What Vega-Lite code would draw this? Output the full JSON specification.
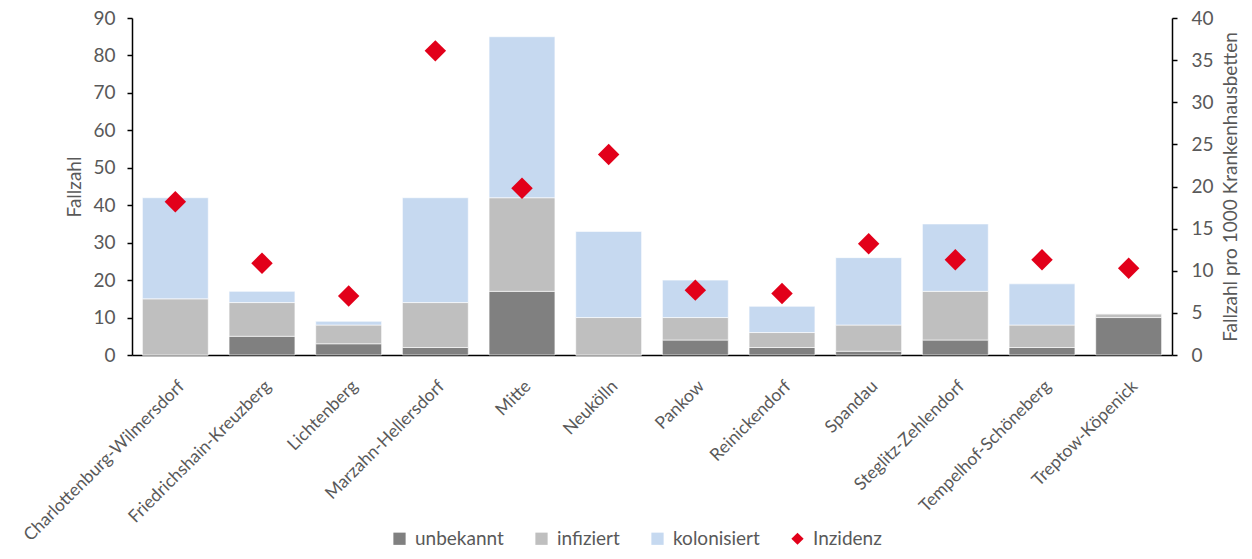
{
  "$schema": "https://vega.github.io/schema/vega-lite/v6.json",
  "width": 1040,
  "height": 337,
  "autosize": {"type": "none"},
  "padding": {"left": 132, "top": 18, "right": 80, "bottom": 204},
  "background": "white",
  "datasets": {
    "faelle": [
      {"Bezirk": "Charlottenburg-Wilmersdorf", "Serie": "unbekannt", "Rang": 1, "Fallzahl": 0},
      {"Bezirk": "Charlottenburg-Wilmersdorf", "Serie": "infiziert", "Rang": 2, "Fallzahl": 15},
      {"Bezirk": "Charlottenburg-Wilmersdorf", "Serie": "kolonisiert", "Rang": 3, "Fallzahl": 27},
      {"Bezirk": "Friedrichshain-Kreuzberg", "Serie": "unbekannt", "Rang": 1, "Fallzahl": 5},
      {"Bezirk": "Friedrichshain-Kreuzberg", "Serie": "infiziert", "Rang": 2, "Fallzahl": 9},
      {"Bezirk": "Friedrichshain-Kreuzberg", "Serie": "kolonisiert", "Rang": 3, "Fallzahl": 3},
      {"Bezirk": "Lichtenberg", "Serie": "unbekannt", "Rang": 1, "Fallzahl": 3},
      {"Bezirk": "Lichtenberg", "Serie": "infiziert", "Rang": 2, "Fallzahl": 5},
      {"Bezirk": "Lichtenberg", "Serie": "kolonisiert", "Rang": 3, "Fallzahl": 1},
      {"Bezirk": "Marzahn-Hellersdorf", "Serie": "unbekannt", "Rang": 1, "Fallzahl": 2},
      {"Bezirk": "Marzahn-Hellersdorf", "Serie": "infiziert", "Rang": 2, "Fallzahl": 12},
      {"Bezirk": "Marzahn-Hellersdorf", "Serie": "kolonisiert", "Rang": 3, "Fallzahl": 28},
      {"Bezirk": "Mitte", "Serie": "unbekannt", "Rang": 1, "Fallzahl": 17},
      {"Bezirk": "Mitte", "Serie": "infiziert", "Rang": 2, "Fallzahl": 25},
      {"Bezirk": "Mitte", "Serie": "kolonisiert", "Rang": 3, "Fallzahl": 43},
      {"Bezirk": "Neukölln", "Serie": "unbekannt", "Rang": 1, "Fallzahl": 0},
      {"Bezirk": "Neukölln", "Serie": "infiziert", "Rang": 2, "Fallzahl": 10},
      {"Bezirk": "Neukölln", "Serie": "kolonisiert", "Rang": 3, "Fallzahl": 23},
      {"Bezirk": "Pankow", "Serie": "unbekannt", "Rang": 1, "Fallzahl": 4},
      {"Bezirk": "Pankow", "Serie": "infiziert", "Rang": 2, "Fallzahl": 6},
      {"Bezirk": "Pankow", "Serie": "kolonisiert", "Rang": 3, "Fallzahl": 10},
      {"Bezirk": "Reinickendorf", "Serie": "unbekannt", "Rang": 1, "Fallzahl": 2},
      {"Bezirk": "Reinickendorf", "Serie": "infiziert", "Rang": 2, "Fallzahl": 4},
      {"Bezirk": "Reinickendorf", "Serie": "kolonisiert", "Rang": 3, "Fallzahl": 7},
      {"Bezirk": "Spandau", "Serie": "unbekannt", "Rang": 1, "Fallzahl": 1},
      {"Bezirk": "Spandau", "Serie": "infiziert", "Rang": 2, "Fallzahl": 7},
      {"Bezirk": "Spandau", "Serie": "kolonisiert", "Rang": 3, "Fallzahl": 18},
      {"Bezirk": "Steglitz-Zehlendorf", "Serie": "unbekannt", "Rang": 1, "Fallzahl": 4},
      {"Bezirk": "Steglitz-Zehlendorf", "Serie": "infiziert", "Rang": 2, "Fallzahl": 13},
      {"Bezirk": "Steglitz-Zehlendorf", "Serie": "kolonisiert", "Rang": 3, "Fallzahl": 18},
      {"Bezirk": "Tempelhof-Schöneberg", "Serie": "unbekannt", "Rang": 1, "Fallzahl": 2},
      {"Bezirk": "Tempelhof-Schöneberg", "Serie": "infiziert", "Rang": 2, "Fallzahl": 6},
      {"Bezirk": "Tempelhof-Schöneberg", "Serie": "kolonisiert", "Rang": 3, "Fallzahl": 11},
      {"Bezirk": "Treptow-Köpenick", "Serie": "unbekannt", "Rang": 1, "Fallzahl": 10},
      {"Bezirk": "Treptow-Köpenick", "Serie": "infiziert", "Rang": 2, "Fallzahl": 1},
      {"Bezirk": "Treptow-Köpenick", "Serie": "kolonisiert", "Rang": 3, "Fallzahl": 0}
    ],
    "inzidenz": [
      {"Bezirk": "Charlottenburg-Wilmersdorf", "Serie": "Inzidenz", "Inzidenz": 18.2},
      {"Bezirk": "Friedrichshain-Kreuzberg", "Serie": "Inzidenz", "Inzidenz": 10.9},
      {"Bezirk": "Lichtenberg", "Serie": "Inzidenz", "Inzidenz": 7.0},
      {"Bezirk": "Marzahn-Hellersdorf", "Serie": "Inzidenz", "Inzidenz": 36.1},
      {"Bezirk": "Mitte", "Serie": "Inzidenz", "Inzidenz": 19.8},
      {"Bezirk": "Neukölln", "Serie": "Inzidenz", "Inzidenz": 23.8},
      {"Bezirk": "Pankow", "Serie": "Inzidenz", "Inzidenz": 7.7},
      {"Bezirk": "Reinickendorf", "Serie": "Inzidenz", "Inzidenz": 7.3},
      {"Bezirk": "Spandau", "Serie": "Inzidenz", "Inzidenz": 13.2},
      {"Bezirk": "Steglitz-Zehlendorf", "Serie": "Inzidenz", "Inzidenz": 11.3},
      {"Bezirk": "Tempelhof-Schöneberg", "Serie": "Inzidenz", "Inzidenz": 11.3},
      {"Bezirk": "Treptow-Köpenick", "Serie": "Inzidenz", "Inzidenz": 10.3}
    ]
  },
  "config": {
    "view": {"stroke": null},
    "font": "Lato",
    "axis": {
      "grid": false,
      "labelColor": "#595959",
      "titleColor": "#595959",
      "labelFont": "Lato",
      "titleFont": "Lato",
      "labelFontSize": 19,
      "titleFontSize": 19,
      "titleFontWeight": "normal",
      "domainColor": "#000000",
      "domainWidth": 1.5,
      "tickColor": "#000000",
      "tickWidth": 1.5,
      "tickSize": 5
    },
    "legend": {
      "labelFont": "Lato",
      "labelFontSize": 19,
      "labelColor": "#595959"
    }
  },
  "layer": [
    {
      "data": {"name": "faelle"},
      "mark": {"type": "bar", "stroke": "#ffffff", "strokeWidth": 0.6},
      "encoding": {
        "x": {
          "field": "Bezirk",
          "type": "nominal",
          "sort": null,
          "scale": {"paddingInner": 0.24, "paddingOuter": 0.12},
          "axis": {"title": null, "labelAngle": -45, "ticks": false, "labelPadding": 22, "labelLimit": 300, "labelFontSize": 17.5}
        },
        "y": {
          "field": "Fallzahl",
          "type": "quantitative",
          "stack": "zero",
          "scale": {"domain": [0, 90], "nice": false},
          "axis": {"title": "Fallzahl", "values": [0, 10, 20, 30, 40, 50, 60, 70, 80, 90], "labelPadding": 12, "titlePadding": 8}
        },
        "color": {
          "field": "Serie",
          "type": "nominal",
          "scale": {
            "domain": ["unbekannt", "infiziert", "kolonisiert", "Inzidenz"],
            "range": ["#808080", "#bfbfbf", "#c6d9f0", "#e2001a"]
          },
          "legend": {
            "title": null,
            "orient": "none",
            "direction": "horizontal",
            "legendX": 258,
            "legendY": 511,
            "symbolSize": 150,
            "symbolStrokeWidth": 0,
            "symbolOpacity": 1,
            "columnPadding": 28,
            "labelOffset": 6
          }
        },
        "order": {"field": "Rang", "type": "quantitative"}
      }
    },
    {
      "data": {"name": "inzidenz"},
      "mark": {"type": "point", "shape": "diamond", "filled": true, "size": 460, "opacity": 1},
      "encoding": {
        "x": {"field": "Bezirk", "type": "nominal", "sort": null},
        "y": {
          "field": "Inzidenz",
          "type": "quantitative",
          "scale": {"domain": [0, 40], "nice": false},
          "axis": {"orient": "right", "title": "Fallzahl pro 1000 Krankenhausbetten", "titleAngle": -90, "titleBaseline": "top", "values": [0, 5, 10, 15, 20, 25, 30, 35, 40], "labelPadding": 14, "titlePadding": 8}
        },
        "color": {"field": "Serie", "type": "nominal"},
        "shape": {
          "field": "Serie",
          "type": "nominal",
          "scale": {
            "domain": ["unbekannt", "infiziert", "kolonisiert", "Inzidenz"],
            "range": ["square", "square", "square", "diamond"]
          },
          "legend": {
            "title": null,
            "orient": "none",
            "direction": "horizontal",
            "legendX": 258,
            "legendY": 511,
            "symbolSize": 150,
            "symbolStrokeWidth": 0,
            "symbolOpacity": 1,
            "columnPadding": 28,
            "labelOffset": 6
          }
        }
      }
    }
  ],
  "resolve": {"scale": {"y": "independent"}}
}
